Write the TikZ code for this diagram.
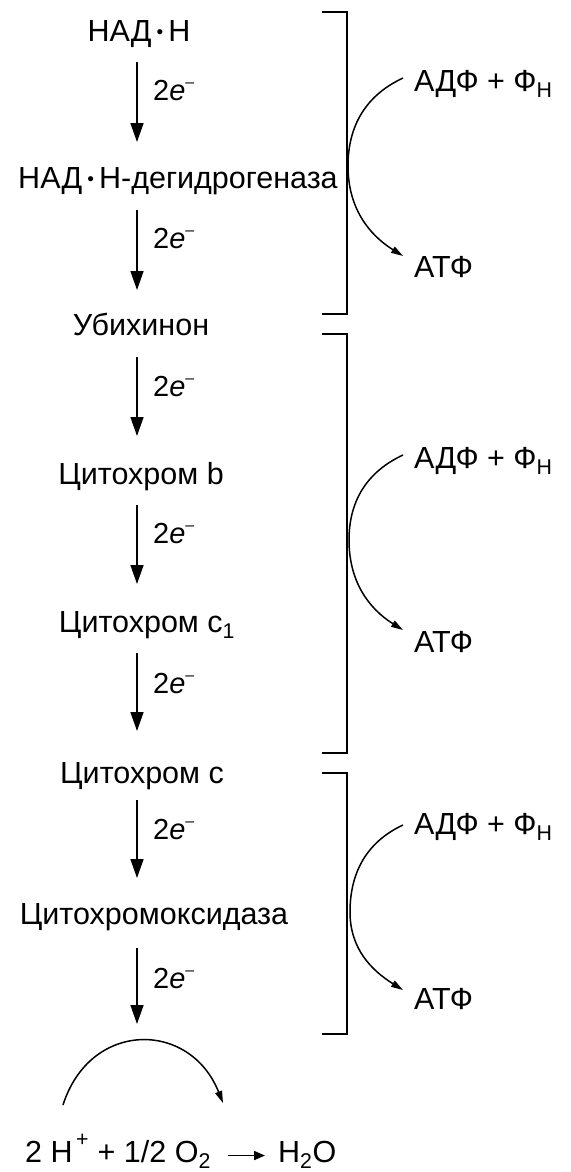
\documentclass[tikz,border=0pt]{standalone}
\usepackage{fontspec}
\setmainfont{Liberation Sans}
\usetikzlibrary{arrows.meta}
\begin{document}
\begin{tikzpicture}[x=1pt,y=-1pt,
  lbl/.style={font=\fontsize{30.5}{36}\selectfont, inner sep=0pt, anchor=base},
  elbl/.style={font=\fontsize{29}{34}\selectfont, inner sep=0pt, anchor=base west},
  side/.style={font=\fontsize{30.5}{36}\selectfont, inner sep=0pt, anchor=base west},
  flow/.style={line width=1.6pt, -{Triangle[length=19pt,width=13pt]}},
  turn/.style={line width=1.5pt, -{Triangle[length=12pt,width=7pt]}},
  brk/.style={line width=1.7pt}
]
\useasboundingbox (0,0) rectangle (570,1172);
\newcommand{\dotc}{\,\raisebox{3pt}{\fontsize{19}{19}\selectfont •}\,}
\newcommand{\twoe}{2\textit{e}\raisebox{13pt}{\fontsize{16}{16}\selectfont –}}

% chain labels
\node[lbl] (n1) at (139,42) {НАД\dotc Н};
\node[lbl] (n2) at (178,188) {НАД\dotc Н-дегидрогеназа};
\node[lbl] (n3) at (141,335) {Убихинон};
\node[lbl] (n4) at (141,484) {Цитохром b};
\node[lbl] (n5) at (147,632) {Цитохром c\textsubscript{1}};
\node[lbl] (n6) at (142,783) {Цитохром c};
\node[lbl] (n7) at (154,924) {Цитохромоксидаза};

% arrow end points
\coordinate (a1s) at (137,62);  \coordinate (a1e) at (137,142);
\coordinate (a2s) at (137,210); \coordinate (a2e) at (137,290);
\coordinate (a3s) at (137,357); \coordinate (a3e) at (137,436);
\coordinate (a4s) at (137,505); \coordinate (a4e) at (137,584);
\coordinate (a5s) at (137,653); \coordinate (a5e) at (137,731);
\coordinate (a6s) at (137,800); \coordinate (a6e) at (137,878);
\coordinate (a7s) at (137,948); \coordinate (a7e) at (137,1024);
\draw[flow] (a1s) -- (a1e);
\draw[flow] (a2s) -- (a2e);
\draw[flow] (a3s) -- (a3e);
\draw[flow] (a4s) -- (a4e);
\draw[flow] (a5s) -- (a5e);
\draw[flow] (a6s) -- (a6e);
\draw[flow] (a7s) -- (a7e);

\node[elbl] (e1) at (153,100) {\twoe};
\node[elbl] (e2) at (153,248) {\twoe};
\node[elbl] (e3) at (153,396) {\twoe};
\node[elbl] (e4) at (153,543) {\twoe};
\node[elbl] (e5) at (153,693) {\twoe};
\node[elbl] (e6) at (153,839) {\twoe};
\node[elbl] (e7) at (153,988) {\twoe};

% brackets
\draw[brk] (322,12) -- (347,12) -- (347,314) -- (322,314);
\draw[brk] (322,334) -- (347,334) -- (347,753) -- (322,753);
\draw[brk] (322,773) -- (347,773) -- (347,1034) -- (322,1034);

% phosphorylation sites
\node[side] (adp1) at (414,91) {АДФ + Ф\textsubscript{Н}};
\node[side] (atp1) at (414,277) {АТФ};
\node[side] (adp2) at (414,468) {АДФ + Ф\textsubscript{Н}};
\node[side] (atp2) at (414,652) {АТФ};
\node[side] (adp3) at (414,834) {АДФ + Ф\textsubscript{Н}};
\node[side] (atp3) at (414,1009) {АТФ};

\coordinate (c1s) at (403,78);  \coordinate (c1m) at (348,166); \coordinate (c1e) at (403,256);
\coordinate (c2s) at (403,455); \coordinate (c2m) at (349,540); \coordinate (c2e) at (403,630);
\coordinate (c3s) at (403,825); \coordinate (c3m) at (350,912); \coordinate (c3e) at (403,990);
\draw[turn] (c1s) to[out=205,in=90] (c1m) to[out=270,in=148] (c1e);
\draw[turn] (c2s) to[out=205,in=90] (c2m) to[out=270,in=148] (c2e);
\draw[turn] (c3s) to[out=205,in=90] (c3m) to[out=270,in=148] (c3e);

% final reaction
\coordinate (r1) at (63,1105);
\coordinate (r2) at (223,1103);
\draw[turn] (r1) .. controls (90,1020) and (190,1020) .. (r2);
\node[lbl, anchor=base west] (lhs) at (25,1162) {2 H\raisebox{6pt}{\textsuperscript{\,+}} + 1/2 O\textsubscript{2}};
\node[lbl, anchor=base west] (rhs) at (278,1162) {H\textsubscript{2}O};
\draw[line width=1.8pt, -{Triangle[length=11pt,width=9pt]}] ([xshift=-50pt,yshift=-1pt]rhs.west) -- ([xshift=-13pt,yshift=-1pt]rhs.west);
\end{tikzpicture}
\end{document}
